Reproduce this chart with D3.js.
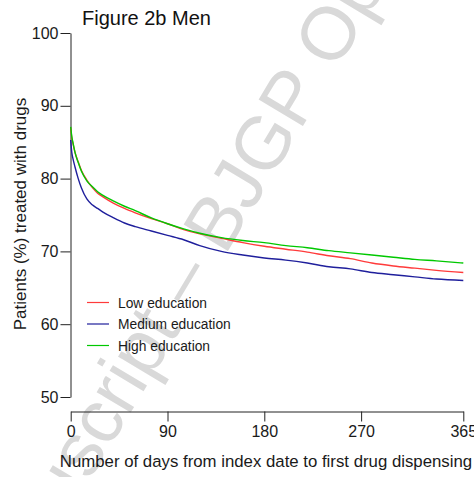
<!DOCTYPE html>
<html>
<head>
<meta charset="utf-8">
<script src="https://cdn.jsdelivr.net/npm/d3@7"></script>
<style>
  body { margin: 0; background: #fff; }
  svg { display: block; font-family: "Liberation Sans", Arial, sans-serif; }
</style>
</head>
<body>
<svg width="474" height="477"></svg>
<script>
// data (percent still treated)
var days      = [0, 1, 2, 4, 7, 10, 15, 20, 25, 30, 40, 50, 60, 75, 90, 105, 120, 140, 160, 180, 200, 220, 240, 260, 280, 300, 320, 340, 365];
var lowEdu    = [87.0, 85.6, 84.9, 83.6, 82.3, 81.1, 79.8, 78.8, 78.0, 77.5, 76.6, 75.9, 75.3, 74.5, 73.8, 73.0, 72.4, 71.8, 71.2, 70.7, 70.3, 69.9, 69.4, 69.0, 68.4, 68.0, 67.7, 67.4, 67.1];
var mediumEdu = [85.3, 83.6, 82.8, 81.6, 80.0, 78.7, 77.2, 76.4, 75.9, 75.4, 74.6, 73.9, 73.4, 72.8, 72.2, 71.6, 70.8, 70.0, 69.5, 69.1, 68.8, 68.4, 67.9, 67.6, 67.1, 66.8, 66.5, 66.2, 66.0];
var highEdu   = [87.1, 85.8, 85.0, 83.6, 82.2, 81.0, 79.7, 78.9, 78.2, 77.7, 76.9, 76.2, 75.6, 74.6, 73.8, 73.1, 72.5, 71.9, 71.5, 71.2, 70.8, 70.5, 70.1, 69.8, 69.5, 69.2, 68.9, 68.7, 68.4];
var seriesNames = ["Low education", "Medium education", "High education"];
var xTicks = [0, 90, 180, 270, 365];
var yTicks = [50, 60, 70, 80, 90, 100];

var svg = d3.select("svg");
var color = ["#ff3b3b", "#1f1f9c", "#00c800"];
var series = [lowEdu, mediumEdu, highEdu];

var x = d3.scaleLinear().domain([0, 365]).range([70.7, 463.3]);
var y = d3.scaleLinear().domain([50, 100]).range([397, 33]);

// watermark
svg.append("text")
   .attr("transform", "translate(-179,928) rotate(-59)")
   .attr("font-size", 75)
   .attr("fill", "#d9d9d9")
   .text("Accepted Manuscript \u2013 BJGP Open");

// axes
var yAxis = svg.append("g")
   .attr("transform", "translate(70.5,0)")
   .call(d3.axisLeft(y).tickValues(yTicks).tickSize(10).tickSizeOuter(0).tickPadding(2));

var xAxis = svg.append("g")
   .attr("transform", "translate(0,411.5)")
   .call(d3.axisBottom(x).tickValues(xTicks).tickSize(10).tickSizeOuter(0).tickPadding(4.5));

svg.selectAll(".tick text")
   .attr("font-size", 16)
   .attr("font-family", "Liberation Sans, Arial, sans-serif")
   .attr("fill", "#1a1a1a");
svg.selectAll(".domain, .tick line").attr("stroke", "#222");

// curves
var line = d3.line()
   .x(function(d, i) { return x(days[i]); })
   .y(function(d) { return y(d); })
   .curve(d3.curveMonotoneX);

[0, 1, 2].forEach(function(k) {
  svg.append("path")
     .attr("d", line(series[k]))
     .attr("fill", "none")
     .attr("stroke", color[k])
     .attr("stroke-width", 1.4);
});

// legend
var legY = [302.5, 324, 345.5];
var legend = svg.selectAll(".legend")
   .data(seriesNames)
   .enter().append("g")
   .attr("class", "legend")
   .attr("transform", function(d, i) { return "translate(0," + legY[i] + ")"; });
legend.append("line")
   .attr("x1", 87).attr("x2", 109)
   .attr("stroke", function(d, i) { return color[i]; })
   .attr("stroke-width", 1.2);
legend.append("text")
   .attr("x", 118)
   .attr("y", 5)
   .attr("font-size", 13.8)
   .attr("fill", "#1a1a1a")
   .text(function(d) { return d; });

// titles
svg.append("text")
   .attr("x", 82)
   .attr("y", 25)
   .attr("font-size", 20)
   .attr("fill", "#111")
   .text("Figure 2b Men");

svg.append("text")
   .attr("x", 266)
   .attr("y", 467)
   .attr("text-anchor", "middle")
   .attr("font-size", 16.8)
   .attr("fill", "#1a1a1a")
   .text("Number of days from index date to first drug dispensing");

svg.append("text")
   .attr("transform", "translate(26,214) rotate(-90)")
   .attr("text-anchor", "middle")
   .attr("font-size", 17)
   .attr("fill", "#1a1a1a")
   .text("Patients (%) treated with drugs");
</script>
</body>
</html>
